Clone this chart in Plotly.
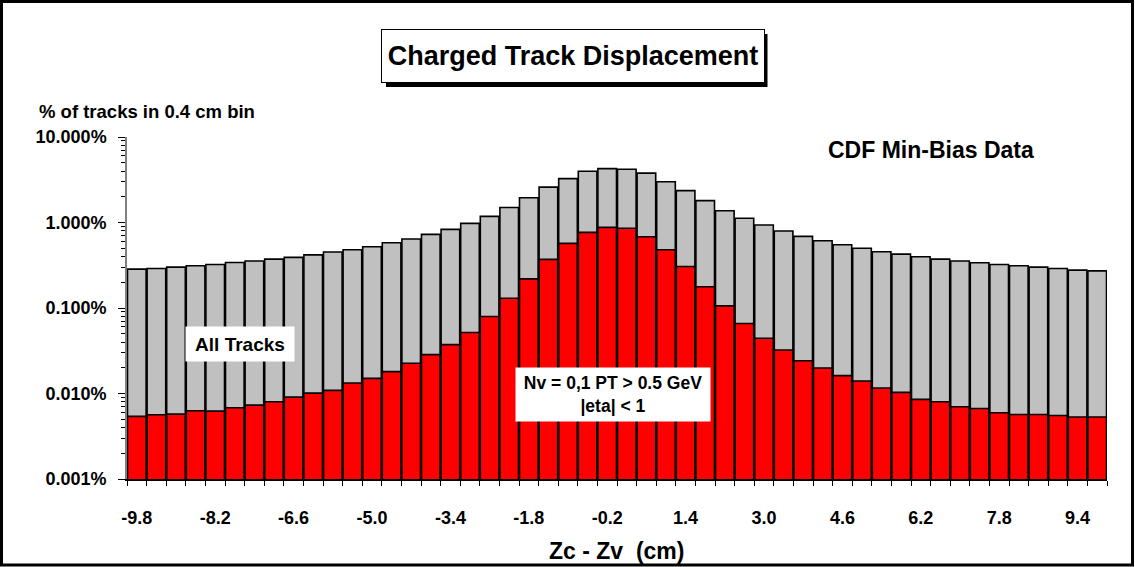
import plotly.graph_objects as go

# ---------------- DATA ----------------
z_bins = [-9.8, -9.4, -9.0, -8.6, -8.2, -7.8, -7.4, -7.0, -6.6, -6.2,
          -5.8, -5.4, -5.0, -4.6, -4.2, -3.8, -3.4, -3.0, -2.6, -2.2,
          -1.8, -1.4, -1.0, -0.6, -0.2, 0.2, 0.6, 1.0, 1.4, 1.8,
          2.2, 2.6, 3.0, 3.4, 3.8, 4.2, 4.6, 5.0, 5.4, 5.8,
          6.2, 6.6, 7.0, 7.4, 7.8, 8.2, 8.6, 9.0, 9.4, 9.8]

all_tracks = [0.285, 0.290, 0.301, 0.312, 0.323, 0.341, 0.354, 0.373, 0.391, 0.418,
              0.451, 0.480, 0.520, 0.580, 0.641, 0.727, 0.832, 0.978, 1.18, 1.50,
              1.95, 2.59, 3.26, 3.98, 4.27, 4.20, 3.78, 3.00, 2.36, 1.80,
              1.37, 1.12, 0.935, 0.795, 0.689, 0.612, 0.550, 0.499, 0.455, 0.427,
              0.397, 0.373, 0.354, 0.338, 0.323, 0.312, 0.301, 0.290, 0.277, 0.272]

selected_tracks = [0.0054, 0.00564, 0.00574, 0.00628, 0.00622, 0.00681, 0.00731, 0.0080, 0.00907, 0.0101,
                   0.01087, 0.01325, 0.01503, 0.0180, 0.02254, 0.0285, 0.0373, 0.0516, 0.0794, 0.130,
                   0.219, 0.370, 0.570, 0.767, 0.878, 0.855, 0.682, 0.480, 0.306, 0.177,
                   0.106, 0.0658, 0.0443, 0.0323, 0.0242, 0.0199, 0.0162, 0.0140, 0.0116, 0.0103,
                   0.00853, 0.0080, 0.0070, 0.00669, 0.00596, 0.00569, 0.00569, 0.00553, 0.0053, 0.0053]

x_tick_vals = [-9.8, -8.2, -6.6, -5.0, -3.4, -1.8, -0.2, 1.4, 3.0, 4.6, 6.2, 7.8, 9.4]
x_tick_text = ["-9.8", "-8.2", "-6.6", "-5.0", "-3.4", "-1.8", "-0.2", "1.4", "3.0", "4.6", "6.2", "7.8", "9.4"]
y_tick_vals = [0.001, 0.01, 0.1, 1, 10]
y_tick_text = ["0.001%", "0.010%", "0.100%", "1.000%", "10.000%"]

# --------------------------------------
FONT = "Liberation Sans, Arial, sans-serif"
BIN_W = 0.4

fig = go.Figure()
fig.add_trace(go.Bar(x=z_bins, y=all_tracks, width=BIN_W * 0.95,
                     marker=dict(color="#C0C0C0", line=dict(color="black", width=1.6)),
                     name="All Tracks", hoverinfo="x+y"))
fig.add_trace(go.Bar(x=z_bins, y=selected_tracks, width=BIN_W * 0.95,
                     marker=dict(color="#FF0000", line=dict(color="black", width=1.6)),
                     name="Nv = 0,1 PT > 0.5 GeV |eta| < 1", hoverinfo="x+y"))

minor_y = [m * 10.0 ** e for e in range(-3, 1) for m in range(2, 10)]

L, R, T, B = 127, 28, 137, 88
W, H = 1135, 567
pw, ph = W - L - R, H - T - B


def px(x):
    return (x - L) / pw


def py(y):
    return (H - B - y) / ph


fig.update_layout(
    width=W, height=H, autosize=False,
    margin=dict(l=L, r=R, t=T, b=B, autoexpand=False),
    paper_bgcolor="white", plot_bgcolor="white",
    barmode="overlay", showlegend=False,
    font=dict(family=FONT, color="black", size=18),
    xaxis=dict(
        range=[-10, 10], showgrid=False, zeroline=False, automargin=False,
        showline=True, linecolor="black", linewidth=1.5,
        tickmode="array", tickvals=x_tick_vals, ticktext=x_tick_text,
        ticks="", ticklabelstandoff=22,
        tickfont=dict(family=FONT, size=18, color="black", weight="bold"),
        minor=dict(ticks="outside", ticklen=5, tickcolor="black", tickwidth=1,
                   tickmode="array", tickvals=[b - BIN_W / 2 for b in z_bins] + [z_bins[-1] + BIN_W / 2],
                   showgrid=False),
    ),
    yaxis=dict(
        type="log", range=[-3, 1], showgrid=False, zeroline=False, automargin=False,
        showline=True, linecolor="#808080", linewidth=1.5,
        tickmode="array", tickvals=y_tick_vals, ticktext=y_tick_text,
        ticks="outside", ticklen=7, tickcolor="black", tickwidth=1,
        ticklabelstandoff=8,
        tickfont=dict(family=FONT, size=18, color="black", weight="bold"),
        minor=dict(ticks="outside", ticklen=4, tickcolor="black", tickwidth=1,
                   tickmode="array", tickvals=minor_y, showgrid=False),
    ),
)

annos = []
title_text = "Charged Track Displacement"
annos.append(dict(xref="paper", yref="paper", x=px(572.5), y=py(56), xanchor="center", yanchor="middle",
                  text=title_text, showarrow=False,
                  font=dict(family=FONT, size=27, color="black", weight="bold"),
                  bgcolor="white", bordercolor="black", borderwidth=1, borderpad=5,
                  width=372, height=42))
annos.append(dict(xref="paper", yref="paper", x=px(37), y=py(111), xanchor="left", yanchor="middle",
                  text="% of tracks in 0.4 cm bin", showarrow=False,
                  font=dict(family=FONT, size=18.5, color="black", weight="bold")))
annos.append(dict(xref="paper", yref="paper", x=px(931), y=py(150), xanchor="center", yanchor="middle",
                  text="CDF Min-Bias Data", showarrow=False,
                  font=dict(family=FONT, size=23, color="black", weight="bold")))
annos.append(dict(xref="paper", yref="paper", x=px(239.5), y=py(343.5), xanchor="center", yanchor="middle",
                  text="All Tracks", showarrow=False,
                  font=dict(family=FONT, size=19, color="black", weight="bold"),
                  bgcolor="white", borderpad=6, width=96, height=22))
annos.append(dict(xref="paper", yref="paper", x=px(613), y=py(394), xanchor="center", yanchor="middle",
                  text="Nv = 0,1 PT > 0.5 GeV<br>|eta| < 1", showarrow=False, align="center",
                  font=dict(family=FONT, size=17.5, color="black", weight="bold"),
                  bgcolor="white", borderpad=4, width=186, height=45))
annos.append(dict(xref="paper", yref="paper", x=px(616), y=py(551), xanchor="center", yanchor="middle",
                  text="Zc - Zv\u00a0 (cm)", showarrow=False,
                  font=dict(family=FONT, size=23, color="black", weight="bold")))
fig.update_layout(annotations=annos)

# drop shadow of the title box (annotations are drawn above shapes)
fig.add_shape(type="rect", xref="paper", yref="paper",
              x0=px(386), x1=px(767.5), y0=py(87), y1=py(34),
              line=dict(color="black", width=0), fillcolor="black", layer="above")

# outer frame of the picture
fig.add_shape(type="rect", xref="paper", yref="paper",
              x0=px(1.5), x1=px(W - 2.5), y0=py(H - 2), y1=py(1.5),
              line=dict(color="black", width=3), fillcolor="rgba(0,0,0,0)", layer="above")

fig.write_html("out.html", config={"displayModeBar": False},
               post_script="document.body.style.margin='0px';document.body.style.overflow='hidden';")
